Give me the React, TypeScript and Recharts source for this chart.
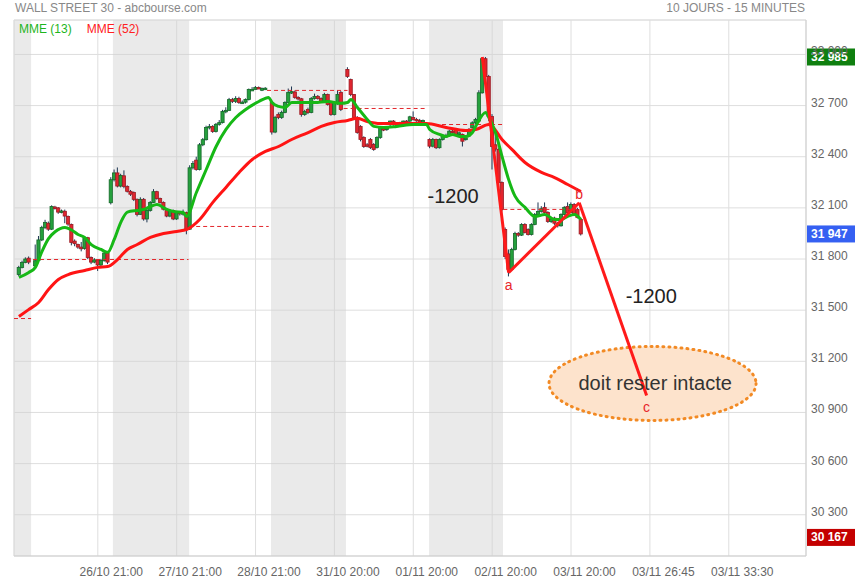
import React from 'react';
import {
  ComposedChart,
  Bar,
  Line,
  XAxis,
  YAxis,
  CartesianGrid,
  ReferenceArea,
  ReferenceLine,
  ReferenceDot,
} from 'recharts';

const FONT = 'Liberation Sans, Arial, sans-serif';

// hourly candles, [open, high, low, close], one array per session
const session0 = [
  [31709, 31760, 31700, 31750],
  [31750, 31790, 31745, 31780],
  [31780, 31810, 31775, 31800],
  [31805, 31815, 31770, 31782],
];
const session1 = [
  [31760, 31885, 31750, 31790], [31792, 31935, 31785, 31912], [31912, 31995, 31905, 31985],
  [31985, 32030, 31975, 32015], [32010, 32020, 31965, 31975], [31975, 32115, 31970, 32108],
  [32105, 32112, 32090, 32100], [32100, 32105, 32065, 32075], [32075, 32090, 32068, 32082],
  [32080, 32090, 32010, 32052], [32050, 32055, 31995, 32005], [32003, 32008, 31880, 31897],
  [31905, 31915, 31875, 31890], [31885, 31890, 31860, 31870], [31870, 31900, 31845, 31860],
  [31862, 31935, 31855, 31925], [31925, 31930, 31800, 31809], [31809, 31815, 31770, 31782],
  [31782, 31805, 31775, 31795], [31795, 31800, 31730, 31765], [31765, 31800, 31755, 31792],
  [31790, 31845, 31785, 31835], [31835, 31840, 31770, 31782], [32130, 32280, 32120, 32265],
];
const session2 = [
  [32265, 32325, 32255, 32305], [32305, 32337, 32220, 32228], [32228, 32300, 32220, 32290],
  [32288, 32320, 32215, 32226], [32226, 32232, 32190, 32197], [32197, 32205, 32170, 32180],
  [32190, 32196, 32140, 32150], [32150, 32155, 32050, 32062], [32062, 32162, 32058, 32150],
  [32150, 32158, 32025, 32035], [32035, 32100, 32015, 32085], [32085, 32140, 32078, 32132],
  [32132, 32210, 32128, 32195], [32195, 32200, 32148, 32155], [32155, 32160, 32125, 32132],
  [32132, 32138, 32085, 32092], [32090, 32098, 32045, 32052], [32052, 32092, 32045, 32085],
  [32085, 32090, 32028, 32035], [32035, 32080, 32030, 32075], [32075, 32082, 32055, 32065],
  [32065, 32090, 32055, 32072], [32072, 32078, 31945, 31975],
];
const session3 = [
  [31975, 32350, 31970, 32335], [32335, 32375, 32325, 32360], [32380, 32400, 32318, 32325],
  [32325, 32480, 32320, 32470], [32470, 32510, 32462, 32500], [32500, 32582, 32495, 32572],
  [32572, 32592, 32560, 32578], [32578, 32585, 32540, 32548], [32548, 32598, 32542, 32590],
  [32590, 32615, 32582, 32600], [32600, 32675, 32595, 32665], [32665, 32690, 32655, 32672],
  [32672, 32745, 32668, 32735], [32735, 32745, 32715, 32725], [32725, 32755, 32715, 32742],
  [32742, 32752, 32710, 32718], [32718, 32730, 32710, 32720], [32720, 32742, 32712, 32736],
  [32736, 32800, 32730, 32795], [32795, 32808, 32788, 32795], [32795, 32815, 32795, 32806],
  [32806, 32812, 32798, 32805], [32790, 32806, 32785, 32800], [32798, 32808, 32792, 32802],
];
const session4 = [
  [32718, 32728, 32530, 32545], [32545, 32640, 32538, 32630], [32648, 32660, 32620, 32630],
  [32630, 32670, 32622, 32660], [32660, 32725, 32655, 32718], [32718, 32800, 32712, 32777],
  [32777, 32812, 32768, 32782], [32780, 32788, 32740, 32748], [32748, 32755, 32730, 32740],
  [32740, 32745, 32635, 32648], [32648, 32675, 32640, 32666], [32677, 32688, 32650, 32660],
  [32660, 32750, 32655, 32742], [32742, 32770, 32735, 32754], [32754, 32762, 32735, 32742],
  [32742, 32748, 32715, 32724], [32724, 32775, 32718, 32765], [32765, 32770, 32700, 32707],
  [32718, 32722, 32640, 32648], [32648, 32725, 32642, 32718], [32710, 32790, 32705, 32765],
  [32777, 32785, 32668, 32677],
];
const session5 = [
  [32912, 32925, 32862, 32871], [32853, 32858, 32755, 32765], [32765, 32768, 32620, 32630],
  [32630, 32638, 32535, 32542], [32578, 32585, 32490, 32501], [32513, 32520, 32452, 32460],
  [32470, 32480, 32455, 32465], [32501, 32510, 32445, 32454], [32472, 32480, 32435, 32443],
  [32454, 32520, 32448, 32513], [32513, 32580, 32505, 32572], [32565, 32575, 32550, 32560],
  [32560, 32580, 32552, 32572], [32589, 32612, 32580, 32609], [32609, 32615, 32582, 32589],
  [32590, 32600, 32580, 32592], [32595, 32605, 32585, 32598], [32598, 32612, 32592, 32609],
  [32609, 32615, 32598, 32605], [32609, 32640, 32602, 32634], [32630, 32666, 32612, 32619],
  [32619, 32628, 32605, 32612], [32612, 32622, 32602, 32609], [32609, 32618, 32600, 32612],
];
const session6 = [
  [32501, 32508, 32450, 32462], [32462, 32510, 32455, 32501], [32501, 32506, 32445, 32453],
  [32453, 32508, 32448, 32501], [32501, 32530, 32495, 32521], [32521, 32535, 32512, 32524],
  [32524, 32558, 32518, 32550], [32550, 32560, 32540, 32548], [32560, 32566, 32525, 32531],
  [32531, 32548, 32525, 32540], [32531, 32536, 32460, 32491], [32500, 32518, 32495, 32510],
  [32521, 32568, 32515, 32560], [32570, 32608, 32565, 32599], [32599, 32628, 32592, 32619],
  [32609, 32790, 32600, 32775], [32775, 32985, 32770, 32975], [32975, 32985, 32860, 32871],
  [32871, 32880, 32610, 32636], [32636, 32650, 32325, 32460], [32470, 32560, 32430, 32445],
  [32443, 32450, 32240, 32249], [32249, 32255, 32080, 32091],
];
const session7 = [
  [31973, 31985, 31800, 31815], [31830, 31856, 31698, 31739], [31739, 31866, 31730, 31856],
  [31856, 31960, 31850, 31950], [31950, 31958, 31930, 31940], [31940, 32010, 31935, 32003],
  [32003, 32010, 31950, 31956], [31973, 31980, 31938, 31944], [31944, 32010, 31938, 32003],
  [32003, 32070, 31998, 32061], [32061, 32132, 32055, 32079], [32079, 32110, 32072, 32095],
  [32103, 32132, 32066, 32073], [32073, 32080, 32012, 32020], [32020, 32042, 32012, 32032],
  [32040, 32048, 32000, 32010], [32010, 32018, 31985, 31995], [31995, 32068, 31990, 32061],
  [32061, 32110, 32055, 32103], [32108, 32132, 32066, 32073], [32073, 32132, 32068, 32120],
  [32120, 32128, 32055, 32061], [32091, 32100, 32038, 32044], [32032, 32040, 31938, 31947],
];
// first bar index of each session
const sessions: [number, number[][]][] = [
  [1, session0], [6, session1], [30, session2], [53, session3],
  [78, session4], [101, session5], [126, session6], [149, session7],
];

// [bar index, value]
const mme13 = [
  [1, 31692], [4, 31721], [6, 31751], [8, 31844], [10, 31920], [12, 31960], [15, 31985],
  [17, 31970], [19, 31944], [21, 31927], [23, 31885], [26, 31856], [28, 31839], [30, 31915],
  [32, 32015], [34, 32075], [37, 32085], [39, 32091], [41, 32108], [43, 32120], [46, 32091],
  [48, 32079], [51, 32073], [52, 32050], [55, 32190], [58, 32325], [61, 32460], [64, 32560],
  [67, 32630], [70, 32677], [74, 32724], [77, 32748], [78, 32718], [80, 32695], [82, 32689],
  [84, 32718], [87, 32718], [91, 32718], [95, 32724], [99, 32713], [101, 32718], [102, 32736],
  [104, 32689], [107, 32619], [109, 32578], [112, 32572], [116, 32578], [121, 32589],
  [125, 32589], [126, 32560], [129, 32531], [131, 32519], [133, 32531], [135, 32519],
  [137, 32519], [139, 32542], [140, 32578], [143, 32660], [144, 32630], [146, 32542],
  [148, 32402], [150, 32267], [152, 32167], [155, 32103], [158, 32050], [161, 32061],
  [164, 32032], [166, 32032], [168, 32050], [170, 32061], [172, 32032],
];
const mme52 = [
  [1, 31463], [4, 31504], [7, 31545], [10, 31621], [13, 31680], [16, 31709], [21, 31733],
  [25, 31751], [28, 31756], [31, 31797], [34, 31856], [37, 31885], [41, 31927], [45, 31950],
  [49, 31962], [52, 31973], [56, 32032], [60, 32132], [64, 32220], [68, 32308], [72, 32384],
  [76, 32431], [80, 32460], [84, 32501], [89, 32542], [93, 32578], [97, 32601], [101, 32613],
  [104, 32625], [107, 32607], [111, 32595], [116, 32595], [121, 32595], [125, 32595],
  [131, 32572], [137, 32554], [140, 32560], [144, 32589], [145, 32578], [148, 32501],
  [151, 32443], [155, 32366], [160, 32308], [164, 32278], [168, 32237], [172, 32196],
];

// previous close levels: [from, to, value]
const levels = [
  [-0.5, 4.7, 31451], [5.3, 52.6, 31797], [52.8, 77, 31991], [76.5, 101, 32789],
  [99.8, 125.3, 32683], [125.5, 148.4, 32589], [148.4, 171.7, 32091],
];
// shaded sessions: [from, to]
const shaded = [[-0.5, 4.7], [29.6, 52.8], [77.7, 100.5], [125.8, 148.3]];

// a-b-c count
const wave = [[142, 32985], [150, 31720], [171.5, 32130], [192, 31000]];
const waveNames = ['', 'a', 'b', 'c'];
const notes: [number, number, string][] = [[133.1, 32167, '-1200'], [193.4, 31586, '-1200']];
// zone that must hold: [x1, x2, y1, y2] and its caption
const targetZone = [162.3, 225.3, 30853, 31287];
const targetText: [number, number, string] = [194.6, 31070, 'doit rester intacte'];

const xTicks = [25, 49, 73, 97, 121, 145, 169, 193, 217];
const xLabels = [
  '26/10 21:00', '27/10 21:00', '28/10 21:00', '31/10 20:00', '01/11 20:00',
  '02/11 20:00', '03/11 20:00', '03/11 26:45', '03/11 33:30',
];
const yTicks = [30300, 30600, 30900, 31200, 31500, 31800, 32100, 32400, 32700, 33000];
const yDomain = [30058, 33202];
const xDomain = [-0.5, 240.5];

const highPrice = 32985;
const lastPrice = 31947;
const lowMark = 30167;

const rows: any[] = [];
for (let i = 0; i <= 240; i++) rows.push({ i });
sessions.forEach(([start, list]) =>
  list.forEach(([o, h, l, c], k) => Object.assign(rows[start + k], { o, h, l, c, range: [l, h] }))
);
mme13.forEach(([i, v]) => (rows[i].mme13 = v));
mme52.forEach(([i, v]) => (rows[i].mme52 = v));

const fmt = (v: number) => String(v).replace(/\B(?=(\d{3})+(?!\d))/g, ' ');

const Candle = (props: any) => {
  const { x, y, width, height, payload } = props;
  if (!payload || payload.o == null) return null;
  const { o, h, l, c } = payload;
  const top = Math.min(y, y + height);
  const span = Math.abs(height);
  const k = h - l > 0 ? span / (h - l) : 0;
  const cx = x + width / 2;
  const yO = top + (h - o) * k;
  const yC = top + (h - c) * k;
  const up = c >= o;
  return (
    <g>
      <line x1={cx} x2={cx} y1={top} y2={top + span} stroke="#1d3552" strokeWidth={1} />
      <rect
        x={cx - 1.6}
        y={Math.min(yO, yC)}
        width={3.2}
        height={Math.max(1.5, Math.abs(yC - yO))}
        fill={up ? '#25a03d' : '#e0262f'}
        stroke={up ? '#15682a' : '#9a1a22'}
        strokeWidth={0.8}
      />
    </g>
  );
};

const XTick = (props: any) => {
  const { x, y, index } = props;
  return (
    <text x={x + 13.5} y={y + 8} textAnchor="middle" dominantBaseline="central" fill="#666" fontSize={12} fontFamily={FONT}>
      {xLabels[index]}
    </text>
  );
};

const YTick = (props: any) => {
  const { x, y, payload } = props;
  return (
    <text x={x} y={y - 3} textAnchor="start" dominantBaseline="central" fill="#666" fontSize={12} fontFamily={FONT}>
      {fmt(payload.value)}
    </text>
  );
};

const badge = (color: string, value: number) => (p: any) => (
  <g>
    <rect x={p.cx + 1} y={p.cy - 8.5} width={48} height={17} fill={color} />
    <text x={p.cx + 5} y={p.cy} dominantBaseline="central" fill="#fff" fontSize={12} fontWeight="bold" fontFamily={FONT}>
      {fmt(value)}
    </text>
  </g>
);

const Zone = (p: any) => (
  <ellipse
    cx={p.x + p.width / 2}
    cy={p.y + p.height / 2}
    rx={Math.abs(p.width) / 2}
    ry={Math.abs(p.height) / 2}
    fill="#fde3cc"
    stroke="#f28a24"
    strokeWidth={3}
    strokeDasharray="1 5"
    strokeLinecap="round"
  />
);

export default function App() {
  return (
    <div style={{ position: 'absolute', left: 0, top: 0, width: 855, height: 580, background: '#fff' }}>
      <div style={{ position: 'absolute', left: 15, top: 1, font: `12px ${FONT}`, lineHeight: '15px', color: '#888', whiteSpace: 'nowrap' }}>
        WALL STREET 30 - abcbourse.com
      </div>
      <div style={{ position: 'absolute', right: 50, top: 1, font: `12px ${FONT}`, lineHeight: '15px', color: '#888', whiteSpace: 'nowrap' }}>
        10 JOURS - 15 MINUTES
      </div>
      <ComposedChart width={855} height={580} data={rows} margin={{ top: 20, right: 0, bottom: 0, left: 14 }}>
        <CartesianGrid stroke="#dedede" />
        {shaded.map(([a, b], k) => (
          <ReferenceArea key={'s' + k} x1={a} x2={b} fill="#d0d0d0" fillOpacity={0.45} stroke="none" ifOverflow="hidden" />
        ))}
        <ReferenceArea
          x1={targetZone[0]}
          x2={targetZone[1]}
          y1={targetZone[2]}
          y2={targetZone[3]}
          ifOverflow="visible"
          shape={<Zone />}
        />
        <XAxis
          type="number"
          dataKey="i"
          domain={xDomain}
          allowDataOverflow
          ticks={xTicks}
          interval={0}
          tick={<XTick />}
          tickLine={false}
          axisLine={{ stroke: '#cfcfcf' }}
          height={24}
        />
        <YAxis
          orientation="right"
          domain={yDomain}
          allowDataOverflow
          ticks={yTicks}
          interval={0}
          tick={<YTick />}
          tickLine={false}
          tickSize={3}
          axisLine={{ stroke: '#cfcfcf' }}
          width={49}
        />
        <ReferenceLine y={yDomain[1]} stroke="#dedede" />
        <ReferenceLine x={xDomain[0]} stroke="#dedede" />
        {levels.map(([a, b, v], k) => (
          <ReferenceLine
            key={'l' + k}
            segment={[{ x: a, y: v }, { x: b, y: v }]}
            stroke="#e3262b"
            strokeDasharray="4 3"
            strokeWidth={1}
          />
        ))}
        <Bar dataKey="range" barSize={4} shape={<Candle />} isAnimationActive={false} />
        <Line dataKey="mme52" type="monotone" stroke="#ff1414" strokeWidth={3} dot={false} connectNulls isAnimationActive={false} />
        <Line dataKey="mme13" type="monotone" stroke="#16b816" strokeWidth={3} dot={false} connectNulls isAnimationActive={false} />
        {wave.slice(1).map(([x, y], k) => (
          <ReferenceLine
            key={'w' + k}
            segment={[{ x: wave[k][0], y: wave[k][1] }, { x, y }]}
            stroke="#ff1a1a"
            strokeWidth={3}
            ifOverflow="visible"
          />
        ))}
        {wave.map(([x, y], k) =>
          waveNames[k] ? (
            <ReferenceDot
              key={'n' + k}
              x={x}
              y={y}
              r={1}
              ifOverflow="visible"
              shape={(p: any) => (
                <text x={p.cx} y={p.cy + (k === 2 ? -9 : 12)} textAnchor="middle" dominantBaseline="central" fill="#e8262b" fontSize={14} fontFamily={FONT}>
                  {waveNames[k]}
                </text>
              )}
            />
          ) : null
        )}
        {notes.map(([x, y, t], k) => (
          <ReferenceDot
            key={'t' + k}
            x={x}
            y={y}
            r={1}
            ifOverflow="visible"
            shape={(p: any) => (
              <text x={p.cx} y={p.cy} textAnchor="middle" dominantBaseline="central" fill="#222" fontSize={20} fontFamily={FONT}>
                {t}
              </text>
            )}
          />
        ))}
        <ReferenceDot
          x={targetText[0]}
          y={targetText[1]}
          r={1}
          ifOverflow="visible"
          shape={(p: any) => (
            <text x={p.cx} y={p.cy} textAnchor="middle" dominantBaseline="central" fill="#333" fontSize={20} fontFamily={FONT}>
              {targetText[2]}
            </text>
          )}
        />
        <ReferenceDot x={xDomain[1]} y={highPrice} r={1} ifOverflow="visible" shape={badge('#0f7f0f', highPrice)} />
        <ReferenceDot x={xDomain[1]} y={lastPrice} r={1} ifOverflow="visible" shape={badge('#3560f2', lastPrice)} />
        <ReferenceDot x={xDomain[1]} y={lowMark} r={1} ifOverflow="visible" shape={badge('#c40000', lowMark)} />
      </ComposedChart>
      <div style={{ position: 'absolute', left: 19, top: 22, font: `12px ${FONT}`, lineHeight: '15px', whiteSpace: 'nowrap' }}>
        <span style={{ color: '#1db51d' }}>MME (13)</span>
        <span style={{ color: '#ff2020', marginLeft: 15 }}>MME (52)</span>
      </div>
    </div>
  );
}
